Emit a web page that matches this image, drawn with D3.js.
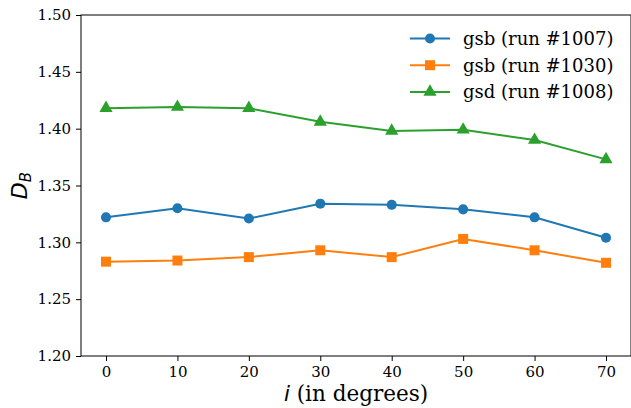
<!DOCTYPE html>
<html>
<head>
<meta charset="utf-8">
<script src="https://cdn.jsdelivr.net/npm/d3@7"></script>
<style>
  body { margin: 0; background: #fff; }
  svg { display: block; }
</style>
</head>
<body>
<div id="vis"></div>
<script>
const WIDTH_VIS = 631;
const HEIGHT_VIS = 408;

const MARGIN = { top: 15, right: 0, bottom: 52, left: 81 };

// data
const angles = [0, 10, 20, 30, 40, 50, 60, 70];
const gsb1007 = [1.322, 1.330, 1.321, 1.334, 1.333, 1.329, 1.322, 1.304];
const gsb1030 = [1.283, 1.284, 1.287, 1.293, 1.287, 1.303, 1.293, 1.282];
const gsd1008 = [1.418, 1.419, 1.418, 1.406, 1.398, 1.399, 1.390, 1.373];
const seriesNames = ['gsb (run #1007)', 'gsb (run #1030)', 'gsd (run #1008)'];
const seriesColors = ['#1f77b4', '#ff7f0e', '#2ca02c'];
const seriesMarkers = ['circle', 'square', 'triangle'];
const yTicks = [1.20, 1.25, 1.30, 1.35, 1.40, 1.45, 1.50];
const xTicks = [0, 10, 20, 30, 40, 50, 60, 70];

const allSeries = [gsb1007, gsb1030, gsd1008];

const SVG = d3.select('#vis').append('svg')
  .attr('width', WIDTH_VIS)
  .attr('height', HEIGHT_VIS);

const x = d3.scaleLinear().domain([-3.5, 73.5])
  .range([MARGIN.left, WIDTH_VIS - MARGIN.right]);
const y = d3.scaleLinear().domain([1.2, 1.5])
  .range([HEIGHT_VIS - MARGIN.bottom, MARGIN.top]);

const SERIF = "'DejaVu Serif', serif";

// axes
const xAxis = SVG.append('g')
  .attr('transform', `translate(0,${y(1.2)})`)
  .call(d3.axisBottom(x).tickValues(xTicks).tickSize(5).tickPadding(5).tickFormat(d3.format('d')));
const yAxis = SVG.append('g')
  .attr('transform', `translate(${x(-3.5)},0)`)
  .call(d3.axisLeft(y).tickValues(yTicks).tickSize(5).tickPadding(5).tickFormat(d3.format('.2f')));

[xAxis, yAxis].forEach((ax) => {
  ax.attr('font-family', SERIF).attr('font-size', 15);
  ax.selectAll('text').attr('fill', '#000');
  ax.selectAll('line').attr('stroke', '#000').attr('stroke-width', 1);
  ax.select('.domain').remove();
});

// frame
SVG.append('rect')
  .attr('x', x(-3.5)).attr('y', y(1.5))
  .attr('width', x(73.5) - x(-3.5)).attr('height', y(1.2) - y(1.5))
  .attr('fill', 'none').attr('stroke', '#000').attr('stroke-width', 1);

const symbolFor = (m) => {
  if (m === 'circle') return d3.symbol(d3.symbolCircle, 80);
  if (m === 'square') return d3.symbol(d3.symbolSquare, 100);
  return d3.symbol(d3.symbolTriangle, 75);
};

const line = d3.line().x((d) => x(d[0])).y((d) => y(d[1]));

allSeries.forEach((vals, i) => {
  const pts = angles.map((a, j) => [a, vals[j]]);
  SVG.append('path')
    .attr('d', line(pts))
    .attr('fill', 'none')
    .attr('stroke', seriesColors[i])
    .attr('stroke-width', 2);
  SVG.append('g').selectAll('path')
    .data(pts)
    .join('path')
    .attr('transform', (d) => `translate(${x(d[0])},${y(d[1])})`)
    .attr('d', symbolFor(seriesMarkers[i])())
    .attr('fill', seriesColors[i]);
});

// legend
const legend = SVG.append('g');
seriesNames.forEach((name, i) => {
  const ly = 38.5 + i * 26.7;
  legend.append('line')
    .attr('x1', 410).attr('x2', 450).attr('y1', ly).attr('y2', ly)
    .attr('stroke', seriesColors[i]).attr('stroke-width', 2);
  legend.append('path')
    .attr('transform', `translate(430,${ly})`)
    .attr('d', symbolFor(seriesMarkers[i])())
    .attr('fill', seriesColors[i]);
  legend.append('text')
    .attr('x', 463).attr('y', ly)
    .attr('dy', '0.35em')
    .attr('font-family', SERIF)
    .attr('font-size', 18)
    .text(name);
});

// axis labels
const xl = SVG.append('text')
  .attr('x', (x(-3.5) + x(73.5)) / 2).attr('y', 401)
  .attr('text-anchor', 'middle')
  .attr('font-family', SERIF)
  .attr('font-size', 21.5);
xl.append('tspan').attr('font-family', "'DejaVu Sans', sans-serif").attr('font-style', 'italic').text('i');
xl.append('tspan').text(' (in degrees)');

const yl = SVG.append('text')
  .attr('transform', `translate(27,${(y(1.2) + y(1.5)) / 2}) rotate(-90)`)
  .attr('text-anchor', 'middle')
  .attr('font-family', "'DejaVu Sans', sans-serif")
  .attr('font-style', 'italic')
  .attr('font-size', 22);
yl.append('tspan').text('D');
yl.append('tspan').attr('font-size', 15).attr('dy', 4).text('B');
</script>
</body>
</html>
